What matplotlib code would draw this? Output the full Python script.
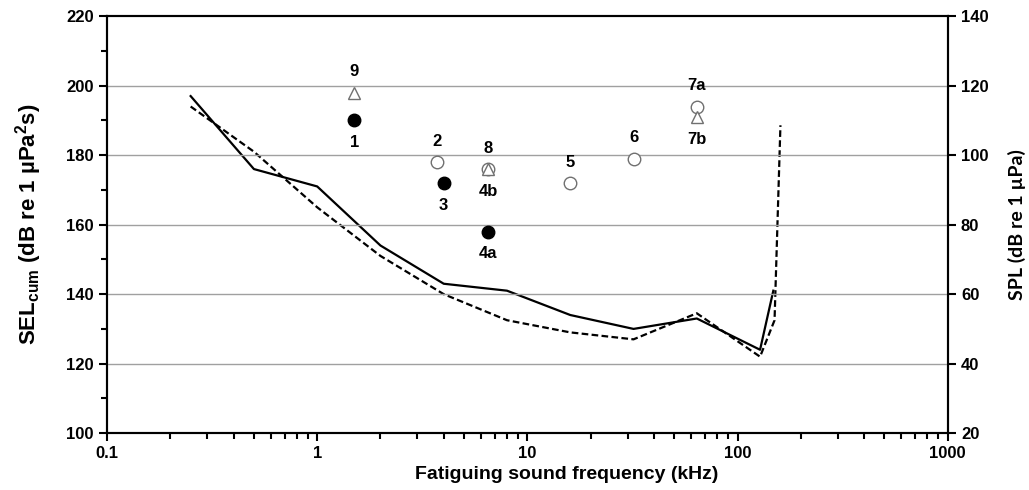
import numpy as np
import matplotlib
matplotlib.use("Agg")
from matplotlib import pyplot as plt
from matplotlib import ticker

plt.rcParams['font.family'] = ['Liberation Sans', 'DejaVu Sans']
plt.rcParams['font.weight'] = 'bold'
plt.rcParams['mathtext.fontset'] = 'custom'
plt.rcParams['mathtext.rm'] = 'Liberation Sans:bold'
plt.rcParams['mathtext.it'] = 'Liberation Sans:bold'
plt.rcParams['mathtext.bf'] = 'Liberation Sans:bold'

# audiogram lines (SPL, right axis)
freq_solid = [0.25, 0.5, 1, 2, 4, 8, 16, 32, 64, 128, 148]
spl_solid = [117, 96, 91, 74, 63, 61, 54, 50, 53, 44, 61]
freq_dash = [0.25, 0.5, 1, 2, 4, 8, 16, 32, 64, 128, 150, 160]
spl_dash = [114, 101, 85, 71, 60, 52.5, 49, 47, 54.5, 42, 52.5, 108.6]

# TTS onset points (SEL, left axis)
filled_f = [1.5, 4, 6.5]
filled_sel = [190, 172, 158]
open_f = [3.73, 6.5, 16, 32, 64]
open_sel = [178, 176, 172, 179, 194]
tri_f = [1.5, 6.5, 64]
tri_sel = [198, 176, 191]

# labels: (text, freq, sel, side)
labels = [("9", 1.5, 198, "above"), ("1", 1.5, 190, "below"),
          ("2", 3.73, 178, "above"), ("3", 4, 172, "below"),
          ("8", 6.5, 176, "above"), ("4b", 6.5, 176, "below"),
          ("4a", 6.5, 158, "below"), ("5", 16, 172, "above"),
          ("6", 32, 179, "above"), ("7a", 64, 194, "above"),
          ("7b", 64, 191, "below")]

fig = plt.figure(figsize=(10.29, 4.9), dpi=100)
ax = fig.add_axes([0.104, 0.116, 0.817, 0.851])
ax2 = ax.twinx()

ax.set_xscale('log')
ax.set_xlim(0.1, 1000)
ax.set_ylim(100, 220)
ax2.set_ylim(20, 140)

ax.yaxis.set_major_locator(ticker.MultipleLocator(20))
ax.yaxis.set_minor_locator(ticker.MultipleLocator(10))
ax2.yaxis.set_major_locator(ticker.MultipleLocator(20))
ax.xaxis.set_major_locator(ticker.LogLocator(base=10))
ax.xaxis.set_minor_locator(ticker.LogLocator(base=10, subs=np.arange(2, 10)))
ax.xaxis.set_major_formatter(ticker.FuncFormatter(lambda v, p: f"{v:g}"))
ax.xaxis.set_minor_formatter(ticker.NullFormatter())

for a in (ax, ax2):
    for s in a.spines.values():
        s.set_linewidth(1.5)
        s.set_color('black')
    a.tick_params(which='both', direction='out', width=1.5, labelsize=12)
    a.tick_params(which='major', length=6)
    a.tick_params(which='minor', length=4)

for g in [120, 140, 160, 180, 200]:
    ax.axhline(g, color='#a0a0a0', lw=1, zorder=0)

ax2.plot(freq_solid, spl_solid, color='black', lw=1.6)
ax2.plot(freq_dash, spl_dash, color='black', lw=1.6, ls=(0, (3, 1.5)))

ax.plot(filled_f, filled_sel, 'o', ms=9, mfc='black', mec='black', zorder=5)
ax.plot(open_f, open_sel, 'o', ms=9, mfc='white', mec='#707070', mew=1, zorder=4)
ax.plot(tri_f, tri_sel, '^', ms=9, mfc='white', mec='#707070', mew=1, zorder=5)

for txt, f, s, side in labels:
    dy = 15 if side == "above" else -16
    ax.annotate(txt, (f, s), xytext=(0, dy), textcoords='offset points',
                ha='center', va='center', fontsize=12, fontweight='bold')

ax.set_xlabel("Fatiguing sound frequency (kHz)", fontsize=14, fontweight='bold',
              labelpad=3, x=0.547)
ax.set_ylabel(r"SEL$_{\mathrm{cum}}$ (dB re 1 µPa$^{\mathrm{2}}$s)", fontsize=16,
              fontweight='bold', labelpad=16)
ax2.set_ylabel("SPL (dB re 1 µPa)", fontsize=14, fontweight='bold', labelpad=14,
               family=['Lato', 'DejaVu Sans'])

ax.set_zorder(ax2.get_zorder() + 1)
ax.patch.set_visible(False)

fig.savefig("out.png", dpi=100)
